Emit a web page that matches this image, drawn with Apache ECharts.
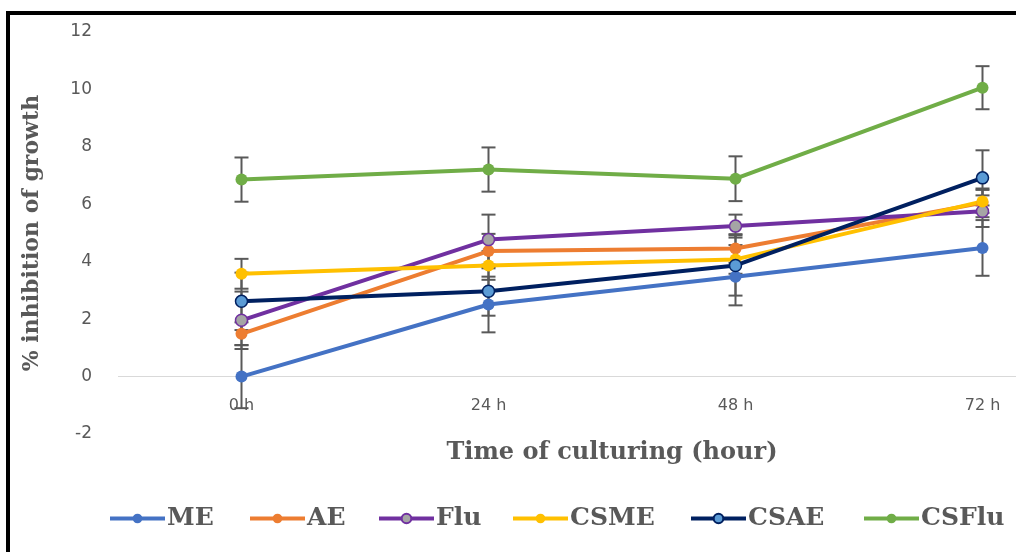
<!DOCTYPE html>
<html><head><meta charset="utf-8">
<script src="https://cdn.jsdelivr.net/npm/echarts@6/dist/echarts.min.js"></script>
<style>html,body{margin:0;padding:0;background:#fff}#c{width:1016px;height:552px}</style>
</head><body><div id="c"></div>
<script>
const categories = ['0 h', '24 h', '48 h', '72 h'];
const yTicks = { min: -2, max: 12, interval: 2 };
const seriesNames = ['ME', 'AE', 'Flu', 'CSME', 'CSAE', 'CSFlu'];
const meanME    = [0.00, 2.51, 3.48, 4.48];
const meanAE    = [1.49, 4.37, 4.46, 6.05];
const meanFlu   = [1.96, 4.77, 5.24, 5.76];
const meanCSME  = [3.58, 3.87, 4.08, 6.10];
const meanCSAE  = [2.62, 2.97, 3.87, 6.92];
const meanCSFlu = [6.86, 7.21, 6.89, 10.06];
const errME    = [1.10, 0.97, 1.00, 0.97];
const errAE    = [0.40, 0.60, 0.50, 0.50];
const errFlu   = [1.00, 0.87, 0.40, 0.55];
const errCSME  = [0.52, 0.50, 0.50, 0.40];
const errCSAE  = [1.00, 0.85, 1.05, 0.96];
const errCSFlu = [0.77, 0.77, 0.78, 0.75];

const means = [meanME, meanAE, meanFlu, meanCSME, meanCSAE, meanCSFlu];
const errs = [errME, errAE, errFlu, errCSME, errCSAE, errCSFlu];
const lineColors = ['#4472C4', '#ED7D31', '#7030A0', '#FFC000', '#002060', '#70AD47'];
const markerFill = ['#4472C4', '#ED7D31', '#A5A5A5', '#FFC000', '#5B9BD5', '#70AD47'];
const legendLeft = [108, 248, 377, 511, 689, 862];

const serifFont = '"DejaVu Serif", "Liberation Serif", serif';
const sansFont = '"DejaVu Sans", "Open Sans", sans-serif';

// The original plot area is wider than the picture (cropped on the right):
// each category band is 247px wide, starting at x=118, and the view ends at x=1016.
const gridLeft = 118, bandPx = 247, viewW = 1016;
const xMin = -0.5, xMax = -0.5 + (viewW - gridLeft) / bandPx;

const chart = echarts.init(document.getElementById('c'));
const series = [];
means.forEach((m, i) => {
  const errData = m.map((v, j) => [j, v - errs[i][j], v + errs[i][j]]);
  series.push({
    type: 'custom', name: seriesNames[i] + ' err', z: 1, silent: true,
    data: errData, clip: false,
    renderItem: function (params, api) {
      const x = api.coord([api.value(0), 0])[0];
      const lo = api.coord([api.value(0), api.value(1)])[1];
      const hi = api.coord([api.value(0), api.value(2)])[1];
      const hw = 7;
      const st = { stroke: '#595959', lineWidth: 2 };
      return { type: 'group', children: [
        { type: 'line', shape: { x1: x, y1: lo, x2: x, y2: hi }, style: st },
        { type: 'line', shape: { x1: x - hw, y1: lo, x2: x + hw, y2: lo }, style: st },
        { type: 'line', shape: { x1: x - hw, y1: hi, x2: x + hw, y2: hi }, style: st }
      ]};
    }
  });
});
means.forEach((m, i) => {
  const s = {
    type: 'line', name: seriesNames[i], data: m.map((v, j) => [j, v]), z: 3,
    symbol: 'circle', symbolSize: 12,
    lineStyle: { color: lineColors[i], width: 4 },
    itemStyle: { color: markerFill[i], borderColor: lineColors[i], borderWidth: (i === 2 || i === 4) ? 1.5 : 0 },
    emphasis: { disabled: true }
  };
  if (i === 0) {
    s.markLine = {
      silent: true, symbol: 'none', label: { show: false }, z: 0,
      lineStyle: { color: '#D9D9D9', width: 1, type: 'solid' },
      data: [{ yAxis: 0 }]
    };
  }
  series.push(s);
});

const legends = seriesNames.map((n, i) => ({
  data: [n], left: legendLeft[i], top: 506, itemWidth: 55, itemHeight: 12, padding: 0,
  lineStyle: { width: 4 },
  textStyle: { fontFamily: serifFont, fontWeight: 'bold', fontSize: 25, color: '#595959', padding: [0, 0, 0, -3] }
}));

chart.setOption({
  animation: false,
  backgroundColor: '#ffffff',
  graphic: [{ type: 'rect', shape: { x: 8, y: 13, width: 1100, height: 600 }, style: { fill: 'none', stroke: '#000', lineWidth: 4 } }],
  grid: { left: gridLeft, right: 0, top: 32, bottom: 118 },
  legend: legends,
  xAxis: {
    type: 'value', min: xMin, max: xMax,
    axisLine: { show: false, onZero: false },
    axisTick: { show: false },
    splitLine: { show: false },
    axisLabel: {
      color: '#595959', fontFamily: sansFont, fontSize: 16, inside: true, margin: 20,
      customValues: [0, 1, 2, 3],
      formatter: v => categories[Math.round(v)] || ''
    },
    name: 'Time of culturing (hour)', nameLocation: 'middle', nameGap: 7,
    nameTextStyle: { fontFamily: serifFont, fontWeight: 'bold', fontSize: 24, color: '#595959', padding: [0, 0, 0, (4 * bandPx - (viewW - gridLeft))] }
  },
  yAxis: {
    type: 'value', min: yTicks.min, max: yTicks.max, interval: yTicks.interval,
    axisLine: { show: false }, axisTick: { show: false }, splitLine: { show: false },
    axisLabel: { color: '#595959', fontFamily: sansFont, fontSize: 17, margin: 26 },
    name: '% inhibition of growth', nameLocation: 'middle', nameGap: 75, nameRotate: 90,
    nameTextStyle: { fontFamily: serifFont, fontWeight: 'bold', fontSize: 22, color: '#595959' }
  },
  series: series
});
</script></body></html>
